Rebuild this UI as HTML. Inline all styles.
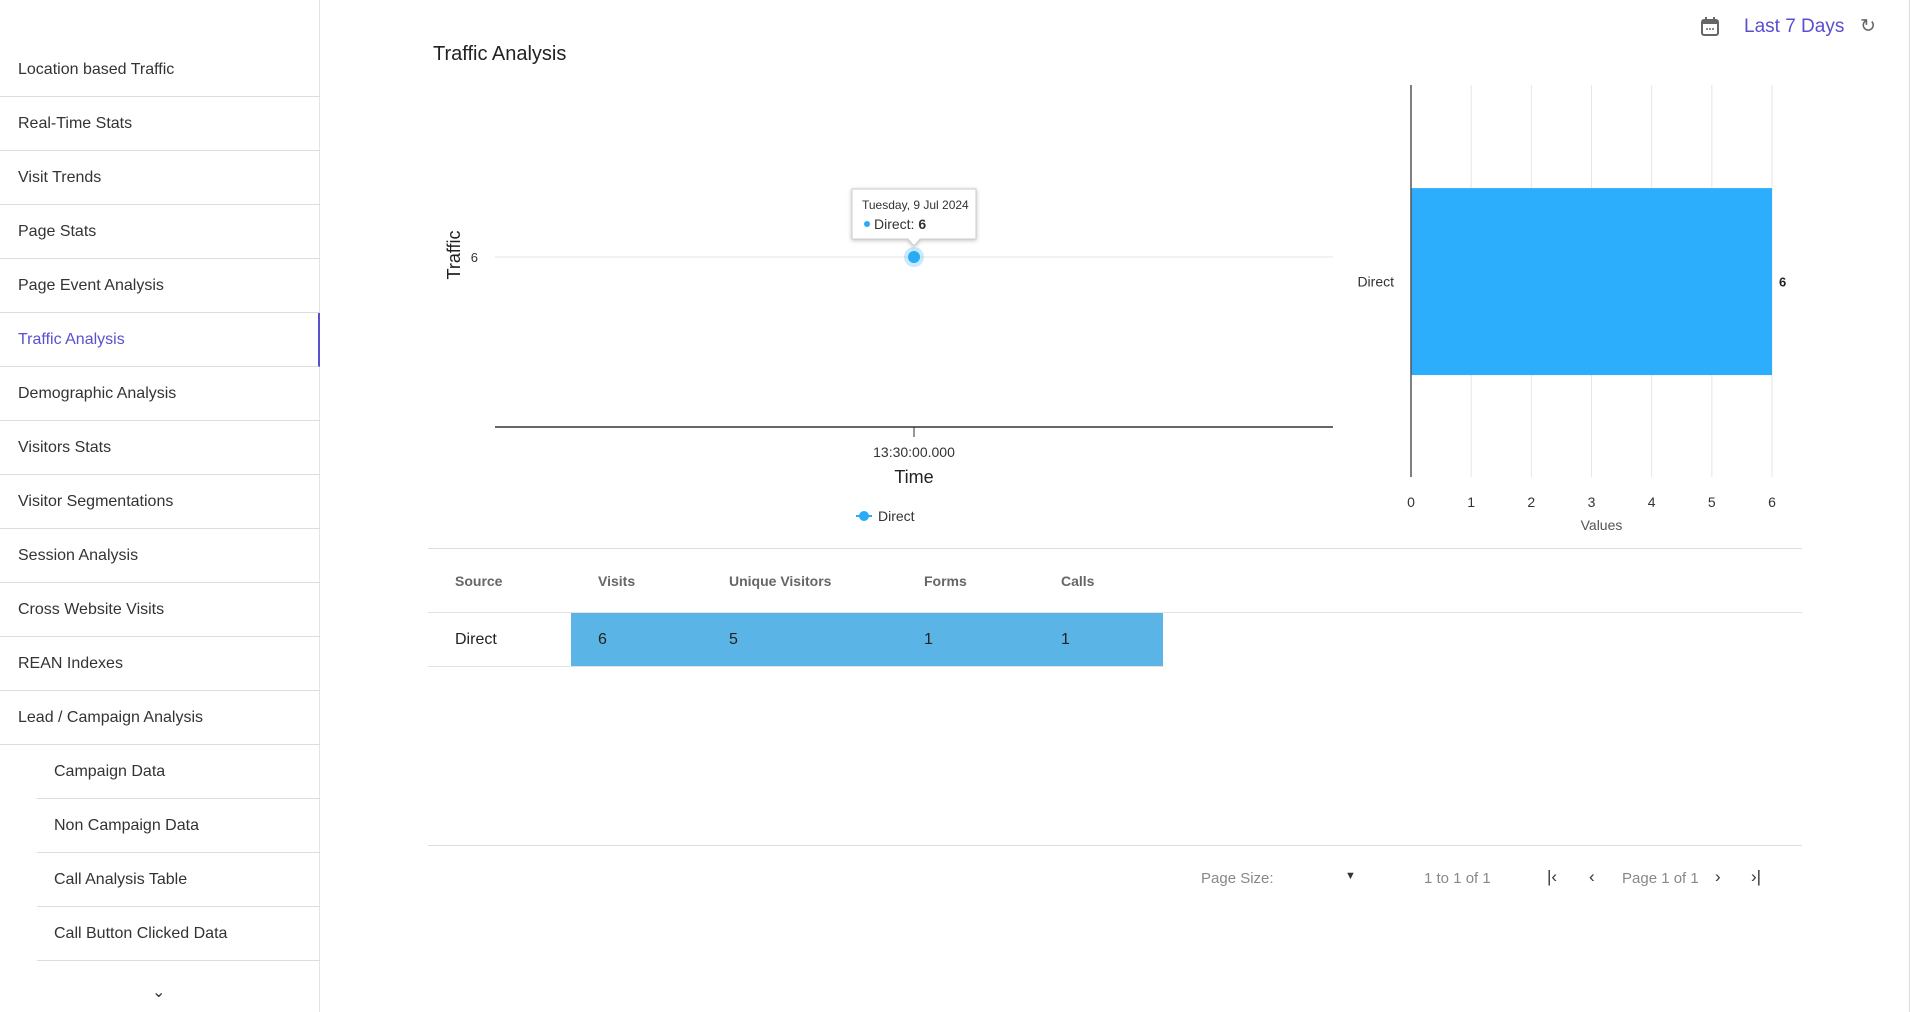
<!DOCTYPE html>
<html><head><meta charset="utf-8"><style>
*{box-sizing:border-box;margin:0;padding:0}
body{width:1912px;height:1012px;overflow:hidden;background:#fff;font-family:"Liberation Sans",sans-serif;color:#333;position:relative}
.sb{position:absolute;left:0;top:0;width:320px;height:1012px;border-right:1px solid #e3e3e3}
.it{position:absolute;left:0;width:320px;height:54px;border-bottom:1px solid #ddd;font-size:16px;padding-left:18px;line-height:54px;color:#333}
.sub{left:37px;width:283px;padding-left:17px}
.act{color:#5a4fcf;border-right:2px solid #5a4fcf}
.abs{position:absolute}
</style></head><body>
<div class="sb">
<div class="it" style="top:43px">Location based Traffic</div>
<div class="it" style="top:97px">Real-Time Stats</div>
<div class="it" style="top:151px">Visit Trends</div>
<div class="it" style="top:205px">Page Stats</div>
<div class="it" style="top:259px">Page Event Analysis</div>
<div class="it act" style="top:313px">Traffic Analysis</div>
<div class="it" style="top:367px">Demographic Analysis</div>
<div class="it" style="top:421px">Visitors Stats</div>
<div class="it" style="top:475px">Visitor Segmentations</div>
<div class="it" style="top:529px">Session Analysis</div>
<div class="it" style="top:583px">Cross Website Visits</div>
<div class="it" style="top:637px">REAN Indexes</div>
<div class="it" style="top:691px">Lead / Campaign Analysis</div>
<div class="it sub" style="top:745px">Campaign Data</div>
<div class="it sub" style="top:799px">Non Campaign Data</div>
<div class="it sub" style="top:853px">Call Analysis Table</div>
<div class="it sub" style="top:907px">Call Button Clicked Data</div>
<div class="abs" style="left:152px;top:982px;font-size:16px;color:#333">⌄</div>
</div>
<div class="abs" style="left:1909px;top:0;width:1px;height:1012px;background:#ddd"></div>
<div class="abs" style="left:433px;top:43px;font-size:20px;color:#222">Traffic Analysis</div>
<svg class="abs" style="left:1700px;top:16px" width="20" height="22"><rect x="2" y="4" width="16" height="15" rx="2" fill="none" stroke="#666" stroke-width="2"/><rect x="2" y="4" width="16" height="4" fill="#666"/><rect x="5" y="1" width="2" height="4" fill="#666"/><rect x="13" y="1" width="2" height="4" fill="#666"/><circle cx="7" cy="13" r="1" fill="#666"/><circle cx="10" cy="13" r="1" fill="#666"/><circle cx="13" cy="13" r="1" fill="#666"/></svg>
<div class="abs" style="left:1744px;top:16px;font-size:19px;color:#5a4fcf">Last 7 Days</div>
<div class="abs" style="left:1860px;top:15px;font-size:19px;color:#666">↻</div>

<svg class="abs" style="left:0;top:0" width="1912" height="600" id="charts"></svg>

<div class="abs" style="left:428px;top:548px;width:1374px;height:1px;background:#ddd"></div>
<div style="font-size:14px;font-weight:bold;color:#666">
<div class="abs" style="left:455px;top:573px">Source</div>
<div class="abs" style="left:598px;top:573px">Visits</div>
<div class="abs" style="left:729px;top:573px">Unique Visitors</div>
<div class="abs" style="left:924px;top:573px">Forms</div>
<div class="abs" style="left:1061px;top:573px">Calls</div>
</div>
<div class="abs" style="left:428px;top:612px;width:1374px;height:1px;background:#e3e3e3"></div>
<div class="abs" style="left:571px;top:613px;width:592px;height:53px;background:#5ab4e5"></div>
<div style="font-size:16px;color:#222">
<div class="abs" style="left:455px;top:631px">Direct</div>
<div class="abs" style="left:598px;top:631px">6</div>
<div class="abs" style="left:729px;top:631px">5</div>
<div class="abs" style="left:924px;top:631px">1</div>
<div class="abs" style="left:1061px;top:631px">1</div>
</div>
<div class="abs" style="left:428px;top:666px;width:736px;height:1px;background:#e3e3e3"></div>
<div class="abs" style="left:428px;top:845px;width:1374px;height:1px;background:#ddd"></div>
<div style="font-size:15px;color:#888">
<div class="abs" style="left:1201px;top:870px">Page Size:</div>
<div class="abs" style="left:1345px;top:870px;font-size:11px;color:#333">▼</div>
<div class="abs" style="left:1424px;top:870px">1 to 1 of 1</div>
<div class="abs" style="left:1547px;top:867px;color:#333;font-size:17px">|‹</div>
<div class="abs" style="left:1589px;top:867px;color:#333;font-size:17px">‹</div>
<div class="abs" style="left:1622px;top:870px">Page 1 of 1</div>
<div class="abs" style="left:1715px;top:867px;color:#333;font-size:17px">›</div>
<div class="abs" style="left:1751px;top:867px;color:#333;font-size:17px">›|</div>
</div>

<script>
const lineCategories = ["13:30:00.000"];
const lineValues = [6];
const lineYTicks = [6];
const barCategories = ["Direct"];
const barValues = [6];
const barTicks = [0,1,2,3,4,5,6];
const NS="http://www.w3.org/2000/svg";
const svg=document.getElementById('charts');
function mk(t,a,txt){const e=document.createElementNS(NS,t);for(const k in a)e.setAttribute(k,a[k]);if(txt!==undefined)e.textContent=txt;svg.appendChild(e);return e;}
const lx0=495,lx1=1333,ly0=427,lyTop=257;
const ly=v=>ly0-(v/6)*(ly0-lyTop);
const lxStep=(lx1-lx0)/lineCategories.length;
const lx=i=>lx0+lxStep*(i+0.5);
lineYTicks.forEach(t=>{
  const g=mk('line',{x1:lx0,x2:lx1,y1:ly(t),y2:ly(t),stroke:'#e6e6e6'});
  
  const l=mk('text',{x:478,y:ly(t)+5,'text-anchor':'end','font-size':13,fill:'#333','font-family':'Liberation Sans'},t);
  
});
let ax=mk('line',{x1:lx0,x2:lx1,y1:ly0,y2:ly0,stroke:'#333','stroke-width':1.5});

lineCategories.forEach((c,i)=>{
  const tk=mk('line',{x1:lx(i),x2:lx(i),y1:ly0,y2:ly0+10,stroke:'#333'});
  
  const tl=mk('text',{x:lx(i),y:457,'text-anchor':'middle','font-size':14,fill:'#333','font-family':'Liberation Sans'},c);
  
});
let xt=mk('text',{x:lx(0),y:483,'text-anchor':'middle','font-size':18,fill:'#222','font-family':'Liberation Sans'},'Time');

let yt=mk('text',{x:0,y:0,'text-anchor':'middle','font-size':18,fill:'#222','font-family':'Liberation Sans',transform:'translate(460,255) rotate(-90)'},'Traffic');

lineValues.forEach((v,i)=>{
  const h=mk('circle',{cx:lx(i),cy:ly(v),r:10,fill:'#29abf5','fill-opacity':0.25});
  
  const p=mk('circle',{cx:lx(i),cy:ly(v),r:6,fill:'#29abf5'});
  
  const px=lx(i),py=ly(v);
  const tb=mk('path',{d:`M${px-62},${py-68} h124 v50 h-56 l-6,7 l-6,-7 h-56 z`,fill:'#fff',stroke:'#ccc',filter:'drop-shadow(0 1px 2px rgba(0,0,0,.25))'});
  
  const t1=mk('text',{x:px-52,y:py-48,'font-size':12,fill:'#333','font-family':'Liberation Sans'},'Tuesday, 9 Jul 2024');
  
  mk('circle',{cx:px-47,cy:py-33,r:3,fill:'#29abf5'});
  const t2=mk('text',{x:px-40,y:py-28,'font-size':14,fill:'#333','font-family':'Liberation Sans'});
  t2.innerHTML='Direct: <tspan font-weight="bold">'+v+'</tspan>';
  
});
let lg=mk('line',{x1:856,x2:872,y1:516,y2:516,stroke:'#29abf5','stroke-width':2});

let lgc=mk('circle',{cx:864,cy:516,r:5,fill:'#29abf5'});

let lgt=mk('text',{x:878,y:521,'font-size':14,fill:'#333','font-family':'Liberation Sans'},'Direct');

const bx0=1411,bx1=1772,by0=85,by1=477;
const bx=v=>bx0+(v/6)*(bx1-bx0);
const bBand=(by1-by0)/barCategories.length;
barTicks.forEach(t=>{
  if(t>0){const g=mk('line',{x1:bx(t),x2:bx(t),y1:by0,y2:by1,stroke:'#e6e6e6'});
  }
  const l=mk('text',{x:bx(t),y:507,'text-anchor':'middle','font-size':14,fill:'#333','font-family':'Liberation Sans'},t);
  
});
barValues.forEach((v,i)=>{
  const top=by0+bBand*i+bBand*0.263,h=bBand*0.477;
  const r=mk('rect',{x:bx0,y:top,width:bx(v)-bx0,height:h,fill:'#2daefc'});
  
  const c=mk('text',{x:bx0-17,y:top+h/2+5,'text-anchor':'end','font-size':14,fill:'#333','font-family':'Liberation Sans'},barCategories[i]);
  
  const vl=mk('text',{x:bx(v)+7,y:top+h/2+5,'font-size':13,'font-weight':'bold',fill:'#222','font-family':'Liberation Sans'},v);
  
});
let bax=mk('line',{x1:bx0,x2:bx0,y1:by0,y2:by1,stroke:'#555','stroke-width':1.5});

let bt=mk('text',{x:(bx0+bx1)/2+10,y:530,'text-anchor':'middle','font-size':14,fill:'#555','font-family':'Liberation Sans'},'Values');

</script>
</body></html>
